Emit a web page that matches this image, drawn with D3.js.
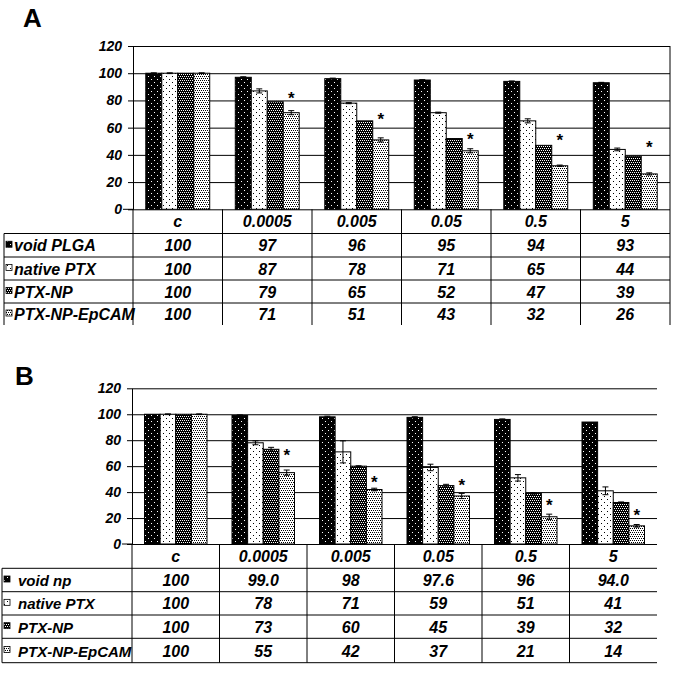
<!DOCTYPE html>
<html>
<head>
<meta charset="utf-8">
<script src="https://cdn.jsdelivr.net/npm/d3@7"></script>
<style>
body{margin:0;background:#fff;}
svg{display:block;}
text{font-family:"Liberation Sans",Arial,sans-serif;}
</style>
</head>
<body>
<svg id="chart"></svg>
<script>
// doses (column headers) and series names
var doses=["c","0.0005","0.005","0.05","0.5","5"];
var seriesA=["void PLGA","native PTX","PTX-NP","PTX-NP-EpCAM"];
var seriesB=["void np","native PTX","PTX-NP","PTX-NP-EpCAM"];
var yTicks=[0,20,40,60,80,100,120];

// panel A values
var aVoid=[100,97,96,95,94,93];
var aNative=[100,87,78,71,65,44];
var aNP=[100,79,65,52,47,39];
var aEp=[100,71,51,43,32,26];
var aErrVoid=[0.3,0.4,0.4,0.3,0.3,0.3];
var aErrNative=[0.3,1.5,0.4,0.4,1.5,1];
var aErrNP=[0,0,0,0,0,0];
var aErrEp=[0.3,1.5,1.5,1.5,0.5,0.8];
var aStar=[null,84,68.5,53.5,53,48];

// panel B values
var bVoid=[100,99.0,98,97.6,96,94.0];
var bVoidText=["100","99.0","98","97.6","96","94.0"];
var bNative=[100,78,71,59,51,41];
var bNP=[100,73,60,45,39,32];
var bEp=[100,55,42,37,21,14];
var bErrVoid=[0,0.5,0.5,0.5,0.4,0];
var bErrNative=[0.3,1.5,8.5,2.5,2.5,3];
var bErrNP=[0,1.5,0.3,1,0.5,0.4];
var bErrEp=[0.3,2,1,2,2,1];
var bStar=[null,70.7,50,48,32,24.4];

var width=682, height=673;

var svg=d3.select("#chart")
.attr("width",width)
.attr("height",height);

svg.append("rect").attr("width",width).attr("height",height).attr("fill","#fff");

// fill patterns
var defs=svg.append("defs");
var makePattern=function(id,size,bg,fg,dots)
{
  var p=defs.append("pattern")
  .attr("id",id)
  .attr("patternUnits","userSpaceOnUse")
  .attr("width",size).attr("height",size);
  p.append("rect").attr("width",size).attr("height",size).attr("fill",bg);
  dots.forEach(function(d){
    p.append("rect").attr("x",d[0]).attr("y",d[1]).attr("width",1).attr("height",1).attr("fill",fg);
  });
};
makePattern("p0",6,"#000","#fff",[[1,1],[4,4]]);
makePattern("p1",6,"#fff","#000",[[1,1],[4,4]]);
makePattern("p2",4,"#000","#fff",[[0,0],[2,0],[1,2],[3,2]]);
makePattern("p3",4,"#fff","#000",[[0,0],[2,0],[1,2],[3,2]]);

var drawPanel=function(cfg)
{
  var g=svg.append("g");

  var y=d3.scaleLinear().domain([0,120]).range([cfg.y0,cfg.yTop]);
  var xg=d3.scaleBand().domain(doses).range([cfg.left,cfg.right]);
  var xs=d3.scaleBand().domain(d3.range(4)).range([0,xg.bandwidth()]).paddingOuter(0.8);

  // grid lines
  g.append("g")
  .attr("transform","translate("+cfg.left+",0)")
  .call(d3.axisLeft(y).tickValues(yTicks).tickSize(-(cfg.right-cfg.left)).tickFormat(""))
  .call(function(s){s.select(".domain").remove();})
  .selectAll("line").attr("stroke","#000");

  // y axis
  var ax=g.append("g")
  .attr("transform","translate("+cfg.left+",0)")
  .call(d3.axisLeft(y).tickValues(yTicks).tickSize(5).tickSizeOuter(0).tickPadding(6));
  ax.select(".domain").attr("stroke","#000");
  ax.selectAll("line").attr("stroke","#000");
  ax.selectAll("text")
  .attr("font-family","'Liberation Sans',Arial,sans-serif")
  .attr("font-size",14).attr("font-weight","bold").attr("font-style","italic")
  .attr("fill","#000");
  g.append("line")
  .attr("x1",cfg.left-10).attr("x2",cfg.left)
  .attr("y1",y(0)).attr("y2",y(0)).attr("stroke","#000");

  // bars
  var rows=[];
  doses.forEach(function(d,i){
    cfg.values.forEach(function(v,k){
      rows.push({dose:d,k:k,v:v[i],e:cfg.errs[k][i]});
    });
  });

  g.selectAll("rect.bar")
  .data(rows)
  .enter()
  .append("rect")
  .attr("class","bar")
  .attr("x",function(d){return xg(d.dose)+xs(d.k);})
  .attr("y",function(d){return y(d.v);})
  .attr("width",xs.bandwidth())
  .attr("height",function(d){return y(0)-y(d.v);})
  .attr("fill",function(d){return "url(#p"+d.k+")";})
  .attr("stroke","#000")
  .attr("stroke-width",1);

  // error bars
  var eb=g.selectAll("g.err")
  .data(rows.filter(function(d){return d.e>0;}))
  .enter()
  .append("g")
  .attr("class","err")
  .attr("stroke","#000")
  .attr("stroke-width",1);
  eb.append("line")
  .attr("x1",function(d){return xg(d.dose)+xs(d.k)+xs.bandwidth()/2;})
  .attr("x2",function(d){return xg(d.dose)+xs(d.k)+xs.bandwidth()/2;})
  .attr("y1",function(d){return y(d.v+d.e);})
  .attr("y2",function(d){return y(d.v-d.e);});
  [1,-1].forEach(function(s){
    eb.append("line")
    .attr("x1",function(d){return xg(d.dose)+xs(d.k)+xs.bandwidth()/2-3;})
    .attr("x2",function(d){return xg(d.dose)+xs(d.k)+xs.bandwidth()/2+3;})
    .attr("y1",function(d){return y(d.v+s*d.e);})
    .attr("y2",function(d){return y(d.v+s*d.e);});
  });

  // significance stars
  g.selectAll("text.star")
  .data(doses.map(function(d,i){return {dose:d,s:cfg.stars[i]};}).filter(function(d){return d.s!==null;}))
  .enter()
  .append("text")
  .attr("class","star")
  .attr("x",function(d){return xg(d.dose)+xs(3)+xs.bandwidth()/2;})
  .attr("y",function(d){return y(d.s)+9;})
  .attr("text-anchor","middle")
  .attr("font-size",17)
  .attr("font-weight","bold")
  .text("*");

  // data table
  var t=g.append("g").attr("stroke","#000").attr("stroke-width",1);
  var rowY=cfg.rowY;
  xg.domain().forEach(function(d){
    t.append("line")
    .attr("x1",xg(d)).attr("x2",xg(d))
    .attr("y1",rowY[0]).attr("y2",rowY[rowY.length-1]);
  });
  if(cfg.rightBorder)
  {
    t.append("line")
    .attr("x1",cfg.right).attr("x2",cfg.right)
    .attr("y1",cfg.yTop).attr("y2",rowY[rowY.length-1]);
  }
  t.append("line")
  .attr("x1",cfg.tableLeft).attr("x2",cfg.tableLeft)
  .attr("y1",rowY[1]).attr("y2",rowY[rowY.length-1]);
  var hLines=cfg.bottomLine ? rowY.slice(1) : rowY.slice(1,rowY.length-1);
  hLines.forEach(function(yy){
    t.append("line")
    .attr("x1",cfg.tableLeft).attr("x2",cfg.right)
    .attr("y1",yy).attr("y2",yy);
  });

  var txt=g.append("g")
  .attr("font-size",cfg.fontSize)
  .attr("font-weight","bold")
  .attr("font-style","italic")
  .attr("fill","#000");

  txt.selectAll("text.head")
  .data(doses)
  .enter()
  .append("text")
  .attr("x",function(d){return xg(d)+xg.bandwidth()/2;})
  .attr("y",(rowY[0]+rowY[1])/2+6)
  .attr("text-anchor","middle")
  .text(function(d){return d;});

  cfg.series.forEach(function(name,k){
    var cy=(rowY[k+1]+rowY[k+2])/2;
    g.append("rect")
    .attr("x",cfg.tableLeft+2).attr("y",cy-4)
    .attr("width",6).attr("height",6)
    .attr("fill","url(#p"+k+")")
    .attr("stroke","#000").attr("stroke-width",0.8);
    txt.append("text")
    .attr("x",cfg.labelX)
    .attr("y",cy+6)
    .attr("font-size",cfg.labelSize)
    .text(name);
    txt.selectAll("text.v"+k)
    .data(cfg.labels[k])
    .enter()
    .append("text")
    .attr("x",function(d,i){return xg(doses[i])+xg.bandwidth()/2;})
    .attr("y",cy+6)
    .attr("text-anchor","middle")
    .text(function(d){return d;});
  });

  svg.append("text")
  .attr("x",cfg.letterX).attr("y",cfg.letterY)
  .attr("font-size",26).attr("font-weight","bold")
  .text(cfg.letter);
};

drawPanel({
  letter:"A",letterX:23,letterY:27,
  left:133,right:670,yTop:46,y0:209.3,
  tableLeft:4,labelX:14,fontSize:16,labelSize:16,
  rowY:[209.3,233.5,257,280,303,325],
  rightBorder:true,bottomLine:false,
  series:seriesA,
  values:[aVoid,aNative,aNP,aEp],
  errs:[aErrVoid,aErrNative,aErrNP,aErrEp],
  stars:aStar,
  labels:[aVoid.map(String),aNative.map(String),aNP.map(String),aEp.map(String)]
});

drawPanel({
  letter:"B",letterX:15,letterY:385,
  left:132,right:657,yTop:388.3,y0:544,
  tableLeft:2,labelX:18,fontSize:16,labelSize:15,
  rowY:[544,568.3,591.7,615,638.3,662.7],
  rightBorder:false,bottomLine:true,
  series:seriesB,
  values:[bVoid,bNative,bNP,bEp],
  errs:[bErrVoid,bErrNative,bErrNP,bErrEp],
  stars:bStar,
  labels:[bVoidText,bNative.map(String),bNP.map(String),bEp.map(String)]
});
</script>
</body>
</html>
